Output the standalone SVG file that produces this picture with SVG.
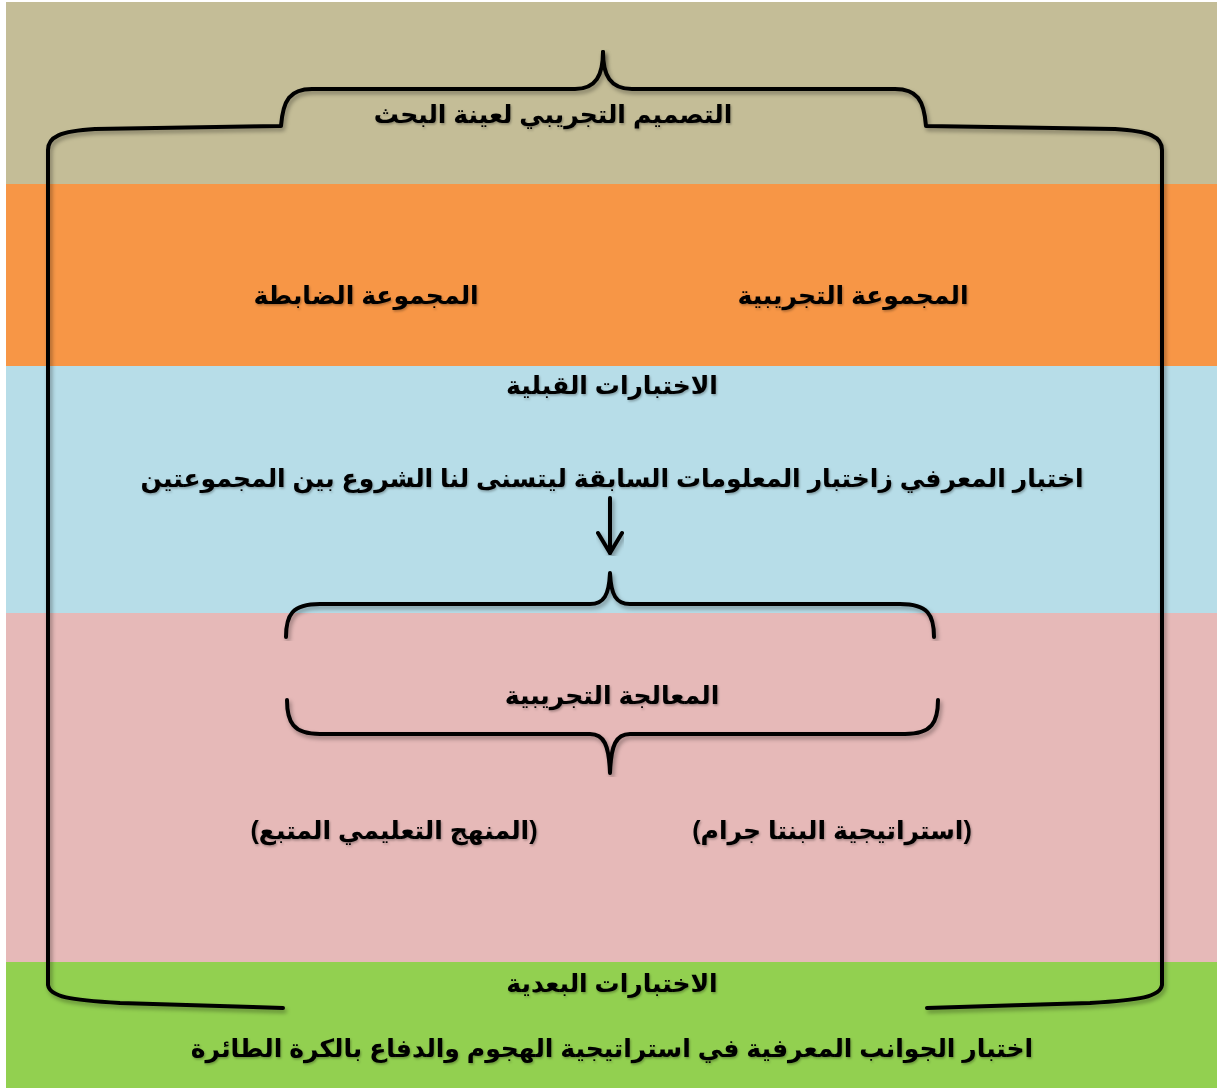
<svg xmlns="http://www.w3.org/2000/svg" width="1217" height="1088" viewBox="0 0 1217 1088">
<style>
.t{font-family:"Liberation Sans","DejaVu Sans",Arial,sans-serif;font-weight:bold;fill:#000;text-anchor:middle;direction:rtl;font-size:25px;filter:url(#ts)}
.br{fill:none;stroke:#000;stroke-width:4;stroke-linecap:round;stroke-linejoin:round;filter:url(#sh)}
</style>
<defs>
<filter id="sh" x="-5%" y="-5%" width="110%" height="110%"><feDropShadow dx="2" dy="3" stdDeviation="2" flood-color="#000" flood-opacity="0.35"/></filter>
<filter id="ts" x="-5%" y="-20%" width="110%" height="140%"><feDropShadow dx="1" dy="1.5" stdDeviation="1" flood-color="#000" flood-opacity="0.3"/></filter>
</defs>
<rect width="1217" height="1088" fill="#fff"/>
<rect x="6" y="2" width="1211" height="182" fill="#C4BD97"/>
<rect x="6" y="184" width="1211" height="182" fill="#F79646"/>
<rect x="6" y="366" width="1211" height="247" fill="#B7DDE8"/>
<rect x="6" y="613" width="1211" height="349" fill="#E6B9B8"/>
<rect x="6" y="962" width="1211" height="126" fill="#92D050"/>
<g id="connectors">
<path id="outer-brace-left" class="br" d="M603 52 C603 75 596 89 575 89 L312 89 C290 89 283 100 281 126 L95 129 C60 131 48 137 48 150 L48 985 C50 997 70 1000 120 1003 L283 1008"/>
<path id="outer-brace-right" class="br" d="M603 52 C603 75 610 89 632 89 L895 89 C917 89 924 100 926 126 L1115 129 C1150 131 1162 137 1162 150 L1162 985 C1160 997 1140 1000 1090 1003 L927 1008"/>
<path id="treat-brace-top" class="br" d="M286 637 C286 615 292 604 320 604 L590 604 C604 604 609 595 610 573 C611 595 616 604 630 604 L900 604 C928 604 934 615 934 637"/>
<path id="treat-brace-bottom" class="br" d="M287 700 C287 722 293 734 320 734 L590 734 C604 734 609 745 610 773 C611 745 616 734 630 734 L905 734 C932 734 938 722 938 700"/>
<g id="arrow" class="br"><path d="M610 498 L610 553"/><path d="M598 533 L610 553 L622 533"/></g>
</g>
<g id="title"><text class="t" x="553" y="123" font-size="27">التصميم التجريبي لعينة البحث</text></g>
<g id="experimental-group"><text class="t" x="853" y="304">المجموعة التجريبية</text></g>
<g id="control-group"><text class="t" x="366" y="304">المجموعة الضابطة</text></g>
<g id="pretests"><text class="t" x="612" y="394">الاختبارات القبلية</text></g>
<g id="pretest-desc"><text class="t" x="612" y="487">اختبار المعرفي زاختبار المعلومات السابقة ليتسنى لنا الشروع بين المجموعتين</text></g>
<g id="treatment"><text class="t" x="612" y="704">المعالجة التجريبية</text></g>
<g id="pentagram"><text class="t" x="832" y="839">(استراتيجية البنتا جرام)</text></g>
<g id="curriculum"><text class="t" x="394" y="839">(المنهج التعليمي المتبع)</text></g>
<g id="posttests"><text class="t" x="612" y="992">الاختبارات البعدية</text></g>
<g id="posttest-desc"><text class="t" x="612" y="1057">اختبار الجوانب المعرفية في استراتيجية الهجوم والدفاع بالكرة الطائرة</text></g>
</svg>
